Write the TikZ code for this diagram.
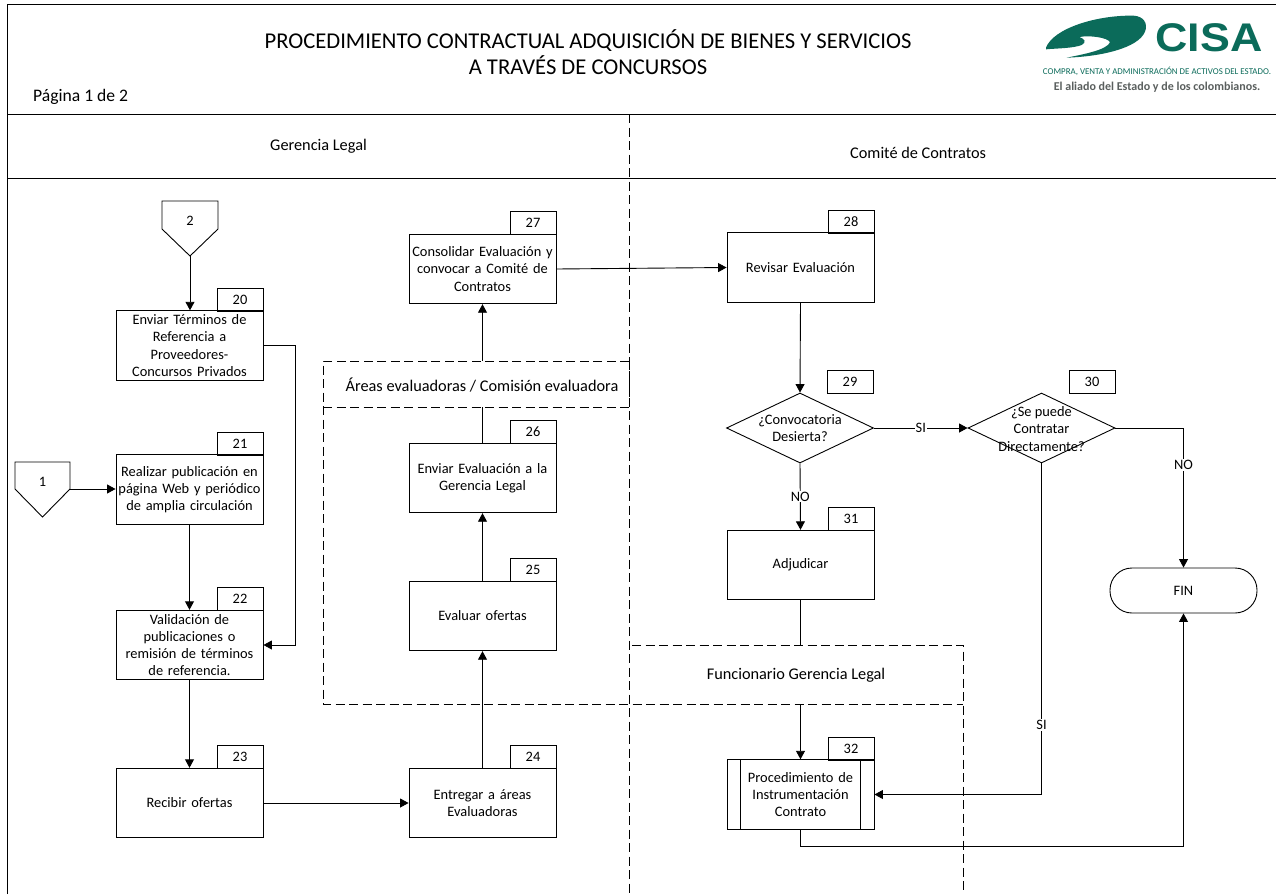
\documentclass[tikz,border=0pt]{standalone}
\usepackage{fontspec}
\setmainfont{Carlito}
\newfontfamily\logofont[FakeStretch=1.12]{Liberation Sans}
\usetikzlibrary{arrows.meta,shapes.geometric,calc}
\definecolor{cisagreen}{HTML}{0B6B5A}
\definecolor{cisagray}{HTML}{5A5F5E}
\tikzset{
  x=1pt,y=-1pt,
  every node/.style={font=\fontsize{14.4}{17.3}\selectfont,inner sep=0pt,align=center},
  lin/.style={line width=.9pt,draw=black},
  procbox/.style={lin,rectangle,minimum width=147pt,minimum height=69.5pt,text width=145pt},
  tabbox/.style={lin,rectangle,minimum width=46pt,minimum height=23pt},
  decbox/.style={lin,diamond,aspect=2.1,minimum width=147pt,minimum height=70pt,inner sep=0pt},
  arr/.style={lin,-{Triangle[length=8.5pt,width=9pt]}},
  dsh/.style={line width=.9pt,draw=black,dash pattern=on 9pt off 4.5pt},
  band/.style={fill=white,draw=none},
  lab/.style={fill=white,inner xsep=1pt,inner ysep=1pt},
  rule/.style={line width=.9pt,draw=black},
  lanelab/.style={font=\fontsize{16.3}{19}\selectfont},
}
\begin{document}
\begin{tikzpicture}
\useasboundingbox (0,0) rectangle (1276,894);
\fill[white] (0,0) rectangle (1276,894);
% frame
\coordinate (tl) at (7,4); \coordinate (tr) at (1276,4); \coordinate (bl) at (7,894);
\coordinate (h1l) at (7,114); \coordinate (h1r) at (1276,114);
\coordinate (h2l) at (7,178); \coordinate (h2r) at (1276,178);
\draw[rule] (bl) -- (tl) -- (tr);
\draw[rule] (h1l) -- (h1r);
\draw[rule] (h2l) -- (h2r);
% title
\node[font=\fontsize{22.6}{26}\selectfont] (title) at (588,52) {PROCEDIMIENTO CONTRACTUAL ADQUISICIÓN DE BIENES Y SERVICIOS\\A TRAVÉS DE CONCURSOS};
\node[font=\fontsize{17.6}{20}\selectfont,anchor=west] (page) at (33,96.5) {Página 1 de 2};
\node[lanelab] (gl) at (318.5,146.5) {Gerencia Legal};
\node[lanelab,anchor=west] (cc) at (850,153) {Comité de Contratos};
% logo
\begin{scope}[shift={(1040,15)},scale=.3333]
\fill[cisagreen] (18,98) .. controls (40,40) and (170,0) .. (280,2)
  .. controls (310,3) and (325,25) .. (315,50)
  .. controls (295,100) and (180,125) .. (80,128)
  .. controls (130,118) and (200,105) .. (210,82)
  .. controls (205,68) and (150,60) .. (118,66)
  .. controls (135,72) and (140,82) .. (125,90)
  .. controls (100,100) and (50,100) .. (18,103) -- cycle;
\end{scope}
\node[font=\fontsize{40}{40}\logofont\bfseries\selectfont,text=cisagreen] (cisa) at (1209,37.5) {CISA};
\node[font=\fontsize{8.9}{10}\selectfont,text=cisagreen] (lg1) at (1157,71) {COMPRA, VENTA Y ADMINISTRACIÓN DE ACTIVOS DEL ESTADO.};
\node[font=\fontsize{12}{13}\bfseries\selectfont,text=cisagray] (lg2) at (1157,87) {El aliado del Estado y de los colombianos.};
% lanes
\coordinate (v1t) at (629,114); \coordinate (v1b) at (629,894);
\draw[dsh] (v1t) -- (v1b);
\coordinate (v2t) at (963,645); \coordinate (v2b) at (963,894);
\coordinate (ev1) at (323,361); \coordinate (ev2) at (629,361);
\coordinate (ev3) at (323,407); \coordinate (ev4) at (629,407);
\coordinate (ev5) at (323,704); \coordinate (ev6) at (963,704);
\coordinate (fg1) at (632,645); \coordinate (fg2) at (963,645);
% process boxes
\node[procbox] (n20) at (189.5,345.5) {Enviar Términos de\\Referencia a\\Proveedores-\\Concursos Privados};
\node[tabbox] (t20) at (240,299.5) {20};
\node[procbox] (n21) at (189.5,489.5) {Realizar publicación en\\página Web y periódico\\de amplia circulación};
\node[tabbox] (t21) at (240,443.5) {21};
\node[procbox] (n22) at (189.5,645) {Validación de\\publicaciones o\\remisión de términos\\de referencia.};
\node[tabbox] (t22) at (240,598.5) {22};
\node[procbox] (n23) at (189.5,803) {Recibir ofertas};
\node[tabbox] (t23) at (240,756.5) {23};
\node[procbox] (n24) at (482.5,803) {Entregar a áreas\\Evaluadoras};
\node[tabbox] (t24) at (533,756.5) {24};
\node[procbox] (n25) at (482.5,616) {Evaluar  ofertas};
\node[tabbox] (t25) at (533,569.5) {25};
\node[procbox] (n26) at (482.5,478) {Enviar Evaluación a la\\Gerencia Legal};
\node[tabbox] (t26) at (533,431.5) {26};
\node[procbox] (n27) at (482.5,269) {Consolidar Evaluación y\\convocar a Comité de\\Contratos};
\node[tabbox] (t27) at (533,222.5) {27};
\node[procbox] (n28) at (800.5,267.5) {Revisar Evaluación};
\node[tabbox] (t28) at (851,221.5) {28};
\node[decbox] (n29) at (800,428) {};
\node (n29t) at (800,428) {¿Convocatoria\\Desierta?};
\node[tabbox] (t29) at (850,382) {29};
\node[decbox] (n30) at (1041.5,428) {};
\node (n30t) at (1041.5,429) {¿Se puede\\Contratar\\Directamente?};
\node[tabbox] (t30) at (1092,382) {30};
\node[procbox] (n31) at (800.5,565) {Adjudicar};
\node[tabbox] (t31) at (851,518.5) {31};
\node[procbox] (n32) at (800.5,794.5) {Procedimiento de\\Instrumentación\\Contrato};
\node[tabbox] (t32) at (851,748.5) {32};
\draw[lin] ($(n32.north west)+(14,0)$) -- ($(n32.south west)+(14,0)$);
\draw[lin] ($(n32.north east)+(-14,0)$) -- ($(n32.south east)+(-14,0)$);
\node[lin,rectangle,rounded corners=22pt,minimum width=147pt,minimum height=45pt] (fin) at (1183.5,590.5) {FIN};
% off-page connectors
\coordinate (op2a) at (162,201); \coordinate (op2b) at (218,201); \coordinate (op2c) at (218,229); \coordinate (op2d) at (190,256); \coordinate (op2e) at (162,229);
\draw[lin] (op2a) -- (op2b) -- (op2c) -- (op2d) -- (op2e) -- cycle;
\node (lb2) at (190,221) {2};
\coordinate (op1a) at (15,462); \coordinate (op1b) at (70,462); \coordinate (op1c) at (70,489); \coordinate (op1d) at (42.5,517); \coordinate (op1e) at (15,489);
\draw[lin] (op1a) -- (op1b) -- (op1c) -- (op1d) -- (op1e) -- cycle;
\node (lb1) at (42.5,482) {1};
% connectors
\draw[arr] (op2d) -- (op2d |- n20.north);
\draw[arr] (op1c) -- (op1c -| n21.west);
\draw[arr] (n20.east) -- (295,345.5) -- (295,645) -- (n22.east);
\draw[arr] (n21.south) -- (n22.north);
\draw[arr] (n22.south) -- (n23.north);
\draw[arr] (n23.east) -- (n24.west);
\draw[arr] (n24.north) -- (n25.south);
\draw[arr] (n25.north) -- (n26.south);
\draw[arr] (n26.north) -- (n27.south);
\draw[arr] (n27.east) -- (n28.west);
\draw[arr] (n28.south) -- (n29.north);
\draw[arr] (n29.east) -- node[lab,pos=.5]{SI} (n30.west);
\draw[arr] (n29.south) -- node[lab,pos=.5]{NO} (n31.north);
\draw[arr] (n30.east) -- (fin.north |- n30.east) -- node[lab,pos=.265]{NO} (fin.north);
\draw[arr] (n30.south) -- node[lab,pos=.79]{SI} (n30.south |- n32.east) -- (n32.east);
\draw[arr] (n31.south) -- (n32.north);
\draw[arr] (n32.south) -- (800.5,846) -- (fin.south |- 0,846) -- (fin.south);
% dashed bands
\fill[band] (ev1) rectangle (ev4);
\fill[band] (fg1) rectangle ($(fg2)+(0,59)$);
\draw[dsh] (ev2) -- (ev1) -- (ev5) -- (ev6);
\draw[dsh] (ev3) -- (ev4);
\draw[dsh] (v1t |- ev1) -- (v1t |- ev3);
\draw[dsh] (fg1) -- (fg2) -- (v2b);
\node[lanelab] (ar) at (482,385) {Áreas evaluadoras / Comisión evaluadora};
\node[lanelab] (fg) at (796,675) {Funcionario Gerencia Legal};
\end{tikzpicture}
\end{document}
